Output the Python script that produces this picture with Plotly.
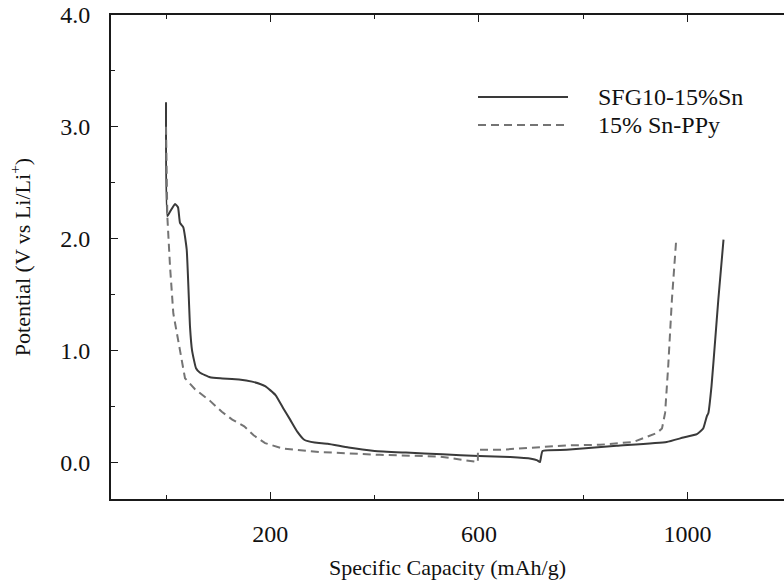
import plotly.graph_objects as go

# ---- data ----
sfg_x = [0, 2.5, 7.7, 17.3, 23, 26.8, 33.2, 39.7, 46, 49.9, 57.5, 65.2, 84.4, 104, 140, 165,
         190, 210, 225, 238, 252, 265, 285, 310, 350, 400, 460, 530, 600, 660, 700, 712, 717,
         722, 768, 864, 960, 992, 1018, 1030, 1037, 1040, 1046, 1053, 1059, 1069]
sfg_y = [3.22, 2.20, 2.24, 2.31, 2.28, 2.14, 2.10, 1.90, 1.21, 1.00, 0.84, 0.80, 0.76, 0.75, 0.74, 0.72,
         0.68, 0.60, 0.48, 0.38, 0.27, 0.20, 0.175, 0.165, 0.13, 0.10, 0.085, 0.07, 0.055, 0.045, 0.03, 0.015, 0.00,
         0.10, 0.11, 0.146, 0.18, 0.22, 0.25, 0.30, 0.41, 0.44, 0.68, 1.09, 1.45, 1.99]

ppy_x = [0, 2.5, 7.7, 14, 26.8, 36.4, 56, 84, 107, 127, 150, 168, 190, 225, 295, 410, 525, 598,
         598, 640, 768, 832, 896, 928, 941, 951, 957, 963, 970, 978]
ppy_y = [3.0, 2.20, 1.75, 1.33, 1.00, 0.75, 0.65, 0.55, 0.45, 0.38, 0.32, 0.24, 0.17, 0.12, 0.09, 0.065, 0.05, 0.0,
         0.11, 0.11, 0.15, 0.155, 0.18, 0.24, 0.26, 0.30, 0.44, 0.86, 1.45, 1.97]

series_names = ["SFG10-15%Sn", "15% Sn-PPy"]
x_ticks = [200, 600, 1000]
y_ticks = [0, 1, 2, 3, 4]
y_tick_text = ["0.0", "1.0", "2.0", "3.0", "4.0"]

FONT = "Liberation Serif"
C_SOLID = "#3a3a3a"
C_DASH = "#747474"
AX = "#1a1a1a"

fig = go.Figure()
fig.add_trace(go.Scatter(x=sfg_x, y=sfg_y, mode="lines", name=series_names[0],
                         line=dict(color=C_SOLID, width=2, shape="spline", smoothing=0.4), showlegend=False))
fig.add_trace(go.Scatter(x=ppy_x, y=ppy_y, mode="lines", name=series_names[1],
                         line=dict(color=C_DASH, width=2, dash="8px,5px"), showlegend=False))

L, R, T, B = 111, 0, 15, 84
W, H = 784, 583
pw, ph = W - L - R, H - T - B

def px2paper(px, py):
    return (px - L) / pw, (H - B - py) / ph

# custom legend with long line samples
for i, (name, col, dash) in enumerate([(series_names[0], C_SOLID, "solid"),
                                        (series_names[1], C_DASH, "8px,5px")]):
    yy = 97 + 28 * i
    x0, y0 = px2paper(478, yy)
    x1, _ = px2paper(568, yy)
    fig.add_shape(type="line", xref="paper", yref="paper", x0=x0, x1=x1, y0=y0, y1=y0,
                  line=dict(color=col, width=2, dash=dash))
    tx, _ = px2paper(596, yy)
    fig.add_annotation(xref="paper", yref="paper", x=tx, y=y0, text=name, showarrow=False,
                       xanchor="left", yanchor="middle", font=dict(family=FONT, size=24, color="#111"))

fig.update_layout(
    width=W, height=H,
    margin=dict(l=L, r=R, t=T, b=B),
    paper_bgcolor="white", plot_bgcolor="white",
    font=dict(family=FONT, color="#111"),
    xaxis=dict(range=[-105.5, 1185], tickvals=x_ticks, ticks="inside", ticklen=7, tickwidth=1.2,
               tickcolor=AX, showline=True, linewidth=2, linecolor=AX, mirror="allticks",
               showgrid=False, zeroline=False, tickfont=dict(family=FONT, size=24, color="#111"),
               ticklabelstandoff=12,
               minor=dict(tickvals=[0, 400, 800], ticks="inside", ticklen=4, tickcolor=AX, tickwidth=1),
               title=dict(text="Specific Capacity (mAh/g)", font=dict(family=FONT, size=22, color="#111"),
                          standoff=14)),
    yaxis=dict(range=[-0.33, 4.0], tickvals=y_ticks, ticktext=y_tick_text, ticks="inside", ticklen=7,
               tickwidth=1.2, tickcolor=AX, showline=True, linewidth=2, linecolor=AX,
               showgrid=False, zeroline=False, tickfont=dict(family=FONT, size=24, color="#111"),
               ticklabelstandoff=14,
               minor=dict(dtick=0.5, ticks="inside", ticklen=4, tickcolor=AX, tickwidth=1),
               title=dict(text="Potential (V vs Li/Li<sup>+</sup>)", font=dict(family=FONT, size=22, color="#111"),
                          standoff=24)),
)

fig.write_html("out.html")
